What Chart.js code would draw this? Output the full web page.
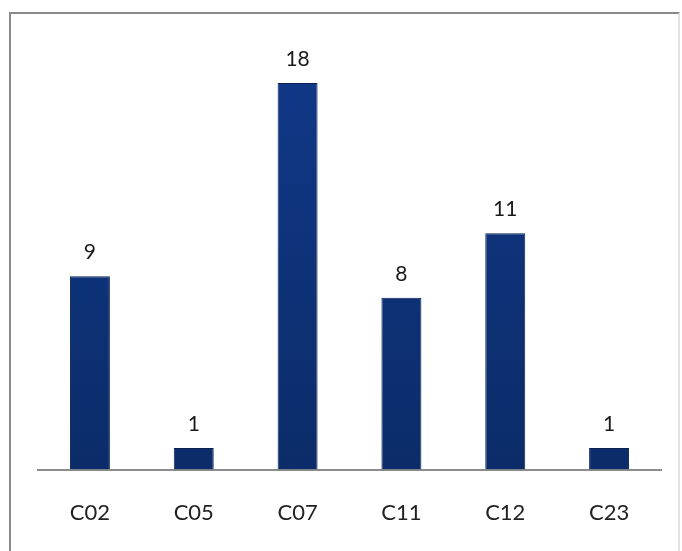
<!DOCTYPE html>
<html>
<head>
<meta charset="utf-8">
<script src="https://cdn.jsdelivr.net/npm/chart.js@4/dist/chart.umd.min.js"></script>
<style>
  html, body { margin: 0; padding: 0; background: #ffffff; }
  #wrap { position: relative; width: 682px; height: 551px; }
  #frame { position: absolute; left: 9px; top: 12px; width: 671px; height: 560px; border: 2px solid #8a8a8a; border-right-color: #e2e2e2; box-sizing: border-box; }
  canvas { position: absolute; left: 0; top: 0; }
</style>
</head>
<body>
<div id="wrap">
  <div id="frame"></div>
  <canvas id="c" width="682" height="551"></canvas>
</div>
<script>
const categories = ["C02", "C05", "C07", "C11", "C12", "C23"];
const values = [9, 1, 18, 8, 11, 1];

const valueLabels = {
  id: 'valueLabels',
  afterDatasetsDraw(chart) {
    const ctx = chart.ctx;
    const meta = chart.getDatasetMeta(0);
    ctx.save();
    ctx.fillStyle = '#1a1a1a';
    ctx.font = '21px Lato, "Open Sans", sans-serif';
    ctx.textAlign = 'center';
    ctx.textBaseline = 'alphabetic';
    meta.data.forEach((bar, i) => {
      ctx.fillText(String(values[i]), bar.x, bar.y - 17);
    });
    ctx.restore();
  }
};

new Chart(document.getElementById('c'), {
  type: 'bar',
  data: {
    labels: categories,
    datasets: [{
      data: values,
      backgroundColor: (c) => {
        const chart = c.chart;
        const area = chart.chartArea;
        if (!area) return '#0f3478';
        const g = chart.ctx.createLinearGradient(0, area.top, 0, area.bottom);
        g.addColorStop(0, '#11398a');
        g.addColorStop(1, '#0b2c68');
        return g;
      },
      borderColor: '#0a2250',
      borderWidth: 1,
      barPercentage: 0.385,
      categoryPercentage: 1.0
    }]
  },
  options: {
    responsive: false,
    animation: false,
    events: [],
    layout: { padding: { left: 38, right: 21, top: 40, bottom: 3 } },
    plugins: { legend: { display: false }, tooltip: { enabled: false } },
    scales: {
      x: {
        grid: { display: false },
        border: { display: true, color: '#8c8c8c', width: 2 },
        ticks: { color: '#222222', padding: 22, font: { family: 'Lato, "Open Sans", sans-serif', size: 22 } }
      },
      y: {
        display: false,
        min: 0,
        max: 20
      }
    }
  },
  plugins: [valueLabels]
});
</script>
</body>
</html>
